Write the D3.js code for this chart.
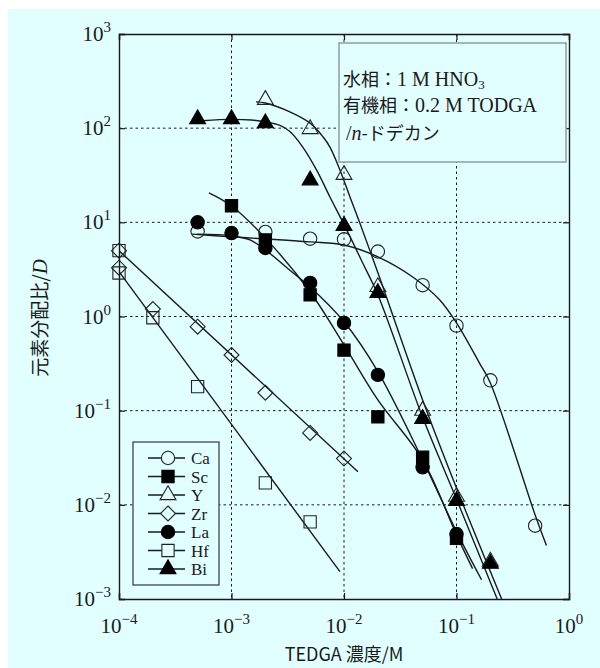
<!DOCTYPE html>
<html><head><meta charset="utf-8">
<script src="https://cdn.jsdelivr.net/npm/d3@7"></script>
<style>
html,body{margin:0;padding:0;background:#fff;}
svg{display:block;}
</style></head>
<body>
<svg id="chart" width="600" height="668"></svg>
<script>
// ---------- data ----------
const elements = ["Ca","Sc","Y","Zr","La","Hf","Bi"];
const xTicks = [1e-4,1e-3,1e-2,1e-1,1];
const yTicks = [1e-3,1e-2,1e-1,1,10,100,1000];
const xTickExp = ["−4","−3","−2","−1","0"];
const yTickExp = ["−3","−2","−1","0","1","2","3"];

// measured points (TEDGA conc / M, D)
const caConc = [5e-4,2e-3,5e-3,1e-2,2e-2,5e-2,0.1,0.2,0.5];
const caD    = [8.0,7.9,6.7,6.6,4.9,2.15,0.80,0.21,0.006];
const scConc = [1e-3,2e-3,5e-3,1e-2,2e-2,5e-2,0.1];
const scD    = [15,6.5,1.7,0.44,0.086,0.032,0.0044];
const yConc  = [2e-3,5e-3,1e-2,2e-2,5e-2,0.1,0.2];
const yD     = [200,98,32,2.06,0.10,0.0122,0.0025];
const zrConc = [1e-4,1e-4,2e-4,5e-4,1e-3,2e-3,5e-3,1e-2];
const zrD    = [5.0,3.3,1.2,0.78,0.39,0.155,0.058,0.031];
const laConc = [5e-4,1e-3,2e-3,5e-3,1e-2,2e-2,5e-2,0.1];
const laD    = [10,7.7,5.35,2.27,0.855,0.24,0.025,0.0049];
const hfConc = [1e-4,1e-4,2e-4,5e-4,2e-3,5e-3];
const hfD    = [5.0,2.9,0.97,0.18,0.0171,0.0066];
const biConc = [5e-4,1e-3,2e-3,5e-3,1e-2,2e-2,5e-2,0.1,0.2];
const biD    = [125,125,113,28,9.2,1.78,0.082,0.011,0.00237];

// fitted curves
const caFitConc = [4.45e-4,1e-3,2e-3,5e-3,1e-2,2e-2,4.08e-2,7.1e-2,0.1,0.16,0.2,0.5,0.63];
const caFitD    = [7.5,7.0,6.67,6.2,5.75,4.3,2.63,1.5,0.855,0.32,0.197,0.0078,0.0037];
const scFitConc = [6.3e-4,1e-3,2e-3,5e-3,1e-2,2e-2,5e-2,0.1,0.139];
const scFitD    = [20.5,14.9,6.8,1.82,0.50,0.13,0.030,0.0048,0.0021];
const yFitConc  = [1.65e-3,2e-3,3.3e-3,5e-3,6.5e-3,7.5e-3,9.2e-3,1.13e-2,1.38e-2,1.69e-2,2.08e-2,5e-2,0.1,0.252];
const yFitD     = [190,185,149,113,81,63,36,18.6,9.9,5.1,2.57,0.13,0.0151,0.001];
const zrFitConc = [1e-4,1.33e-2];
const zrFitD    = [5.0,0.0224];
const laFitConc = [4.93e-4,1e-3,1.46e-3,2e-3,3.3e-3,5e-3,1e-2,2e-2,5e-2,0.1,0.167];
const laFitD    = [7.5,7.2,6.5,5.1,3.1,2.06,0.88,0.26,0.030,0.0052,0.0016];
const hfFitConc = [1e-4,9.2e-3];
const hfFitD    = [3.0,0.00195];
const biFitConc = [5.5e-4,1e-3,1.5e-3,2e-3,2.7e-3,3.3e-3,4.3e-3,5.7e-3,7.5e-3,1e-2,1.5e-2,2e-2,5e-2,0.1,0.23];
const biFitD    = [120,124,122,117,107,92,63,36,18.6,9.5,3.5,1.7,0.085,0.0115,0.001];

const infoLines = ["水相：", "有機相：", "-ドデカン"];
const xLabel = "TEDGA 濃度/M";
const yLabel = "元素分配比/";

// ---------- drawing ----------
const zip = (a,b)=>a.map((v,i)=>[v,b[i]]);
const series = [
  {name:"Ca", pts:zip(caConc,caD), fit:zip(caFitConc,caFitD), sym:"circle", fill:false},
  {name:"Sc", pts:zip(scConc,scD), fit:zip(scFitConc,scFitD), sym:"square", fill:true},
  {name:"Y",  pts:zip(yConc,yD),   fit:zip(yFitConc,yFitD),   sym:"triangle", fill:false},
  {name:"Zr", pts:zip(zrConc,zrD), fit:zip(zrFitConc,zrFitD), sym:"diamond", fill:false},
  {name:"La", pts:zip(laConc,laD), fit:zip(laFitConc,laFitD), sym:"circle", fill:true},
  {name:"Hf", pts:zip(hfConc,hfD), fit:zip(hfFitConc,hfFitD), sym:"square", fill:false},
  {name:"Bi", pts:zip(biConc,biD), fit:zip(biFitConc,biFitD), sym:"triangle", fill:true}
];

const W=600,H=668;
const L=119,R=569,T=34,B=599;
const BG="#e2ffff";
const svg=d3.select("#chart");
svg.append("rect").attr("x",8).attr("y",9).attr("width",W-8).attr("height",H-9).attr("fill",BG);

const x=d3.scaleLog().domain([1e-4,1]).range([L,R]);
const y=d3.scaleLog().domain([1e-3,1e3]).range([B,T]);
const FONT="'Liberation Serif','Times New Roman',serif";
const JFONT="'Noto Sans CJK JP','Liberation Serif',serif";
const INK="#1a1a1a";

// grid
const g=svg.append("g");
g.selectAll(".gx").data(xTicks.slice(1,-1)).join("line")
 .attr("x1",d=>x(d)).attr("x2",d=>x(d)).attr("y1",T).attr("y2",B)
 .attr("stroke",INK).attr("stroke-width",1).attr("stroke-dasharray","2.5,3");
g.selectAll(".gy").data(yTicks.slice(1,-1)).join("line")
 .attr("y1",d=>y(d)).attr("y2",d=>y(d)).attr("x1",L).attr("x2",R)
 .attr("stroke",INK).attr("stroke-width",1).attr("stroke-dasharray","2.5,3");

// axes with inward ticks
const axB=d3.axisBottom(x).tickValues(xTicks).tickSize(-6).tickFormat("");
const axT=d3.axisTop(x).tickValues(xTicks).tickSize(-6).tickFormat("");
const axL=d3.axisLeft(y).tickValues(yTicks).tickSize(-6).tickFormat("");
const axR=d3.axisRight(y).tickValues(yTicks).tickSize(-6).tickFormat("");
[[axB,`translate(0,${B})`],[axT,`translate(0,${T})`],[axL,`translate(${L},0)`],[axR,`translate(${R},0)`]].forEach(([a,t])=>{
  const ag=svg.append("g").attr("transform",t).call(a);
  ag.select(".domain").attr("stroke",INK).attr("stroke-width",1.4);
  ag.selectAll(".tick line").attr("stroke",INK).attr("stroke-width",1.2);
});

// tick labels
const xl=svg.append("g");
xTicks.forEach((v,i)=>{
  const t=xl.append("text").attr("x",x(v)).attr("y",B+34).attr("text-anchor","middle")
    .attr("font-family",FONT).attr("font-size",21).attr("fill",INK);
  t.append("tspan").text("10");
  t.append("tspan").attr("dy",-9).attr("font-size",15).text(xTickExp[i]);
});
yTicks.forEach((v,i)=>{
  const t=xl.append("text").attr("x",111).attr("y",y(v)+7).attr("text-anchor","end")
    .attr("font-family",FONT).attr("font-size",21).attr("fill",INK);
  t.append("tspan").text("10");
  t.append("tspan").attr("dy",-9).attr("font-size",15).text(yTickExp[i]);
});

// axis titles
svg.append("text").attr("x",344).attr("y",661).attr("text-anchor","middle")
  .attr("font-family",JFONT).attr("font-size",18).attr("fill",INK).text(xLabel);
const yt=svg.append("text").attr("transform","translate(47,318) rotate(-90)").attr("text-anchor","middle")
  .attr("font-family",JFONT).attr("font-size",19).attr("fill",INK);
yt.append("tspan").text(yLabel);
yt.append("tspan").attr("font-family",FONT).attr("font-style","italic").attr("font-size",21).text("D");

// symbols
function symPath(type){
  if(type==="circle") return d3.symbol(d3.symbolCircle,140)();
  if(type==="square") return d3.symbol(d3.symbolSquare,150)();
  if(type==="triangle") return d3.symbol(d3.symbolTriangle,110)();
  if(type==="diamond"){const s=7.5;return `M0,${-s}L${s},0L0,${s}L${-s},0Z`;}
}

svg.append("clipPath").attr("id","pc").append("rect").attr("x",L).attr("y",T).attr("width",R-L).attr("height",B-T);
const plot=svg.append("g").attr("clip-path","url(#pc)");
const line=d3.line().x(d=>x(d[0])).y(d=>y(d[1])).curve(d3.curveCatmullRom.alpha(0.5));

series.forEach(s=>{
  plot.append("path").attr("d",line(s.fit)).attr("fill","none").attr("stroke",INK).attr("stroke-width",1.4);
});

const mk=svg.append("g");
series.forEach(s=>{
  mk.selectAll(null).data(s.pts).join("path")
    .attr("d",symPath(s.sym))
    .attr("transform",d=>`translate(${x(d[0])},${y(d[1])})`)
    .attr("fill",s.fill?"#000":"none")
    .attr("stroke",s.fill?"#000":"#222").attr("stroke-width",1.1);
});

// info box
const ib=svg.append("g");
ib.append("rect").attr("x",339).attr("y",43).attr("width",227).attr("height",119)
  .attr("fill",BG).attr("stroke","#8f9d9d").attr("stroke-width",1.5);
const it1=ib.append("text").attr("x",343).attr("y",86).attr("font-family",JFONT).attr("font-size",18).attr("fill",INK);
it1.append("tspan").text(infoLines[0]);
it1.append("tspan").attr("font-family",FONT).attr("font-size",20).text("1 M HNO");
it1.append("tspan").attr("font-family",FONT).attr("font-size",13).attr("dy",3).text("3");
const it2=ib.append("text").attr("x",343).attr("y",112).attr("font-family",JFONT).attr("font-size",18).attr("fill",INK);
it2.append("tspan").text(infoLines[1]);
it2.append("tspan").attr("font-family",FONT).attr("font-size",20).text("0.2 M TODGA");
const it3=ib.append("text").attr("x",346).attr("y",140).attr("font-family",JFONT).attr("font-size",18).attr("fill",INK);
it3.append("tspan").attr("font-family",FONT).attr("font-size",20).text("/");
it3.append("tspan").attr("font-family",FONT).attr("font-style","italic").attr("font-size",20).text("n");
it3.append("tspan").text(infoLines[2]);

// legend
const lg=svg.append("g");
lg.append("rect").attr("x",133).attr("y",442).attr("width",86).attr("height",143)
  .attr("fill",BG).attr("stroke","#444").attr("stroke-width",1.3);
series.forEach((s,i)=>{
  const yy=458+i*18.5;
  lg.append("line").attr("x1",148).attr("x2",185).attr("y1",yy).attr("y2",yy).attr("stroke",INK).attr("stroke-width",1.4);
  lg.append("path").attr("d",symPath(s.sym)).attr("transform",`translate(168,${yy})`)
    .attr("fill",s.fill?"#000":BG).attr("stroke",s.fill?"#000":"#222").attr("stroke-width",1.1);
  lg.append("text").attr("x",191).attr("y",yy+6).attr("font-family",FONT).attr("font-size",17).attr("fill",INK).text(s.name);
});
</script>
</body></html>
